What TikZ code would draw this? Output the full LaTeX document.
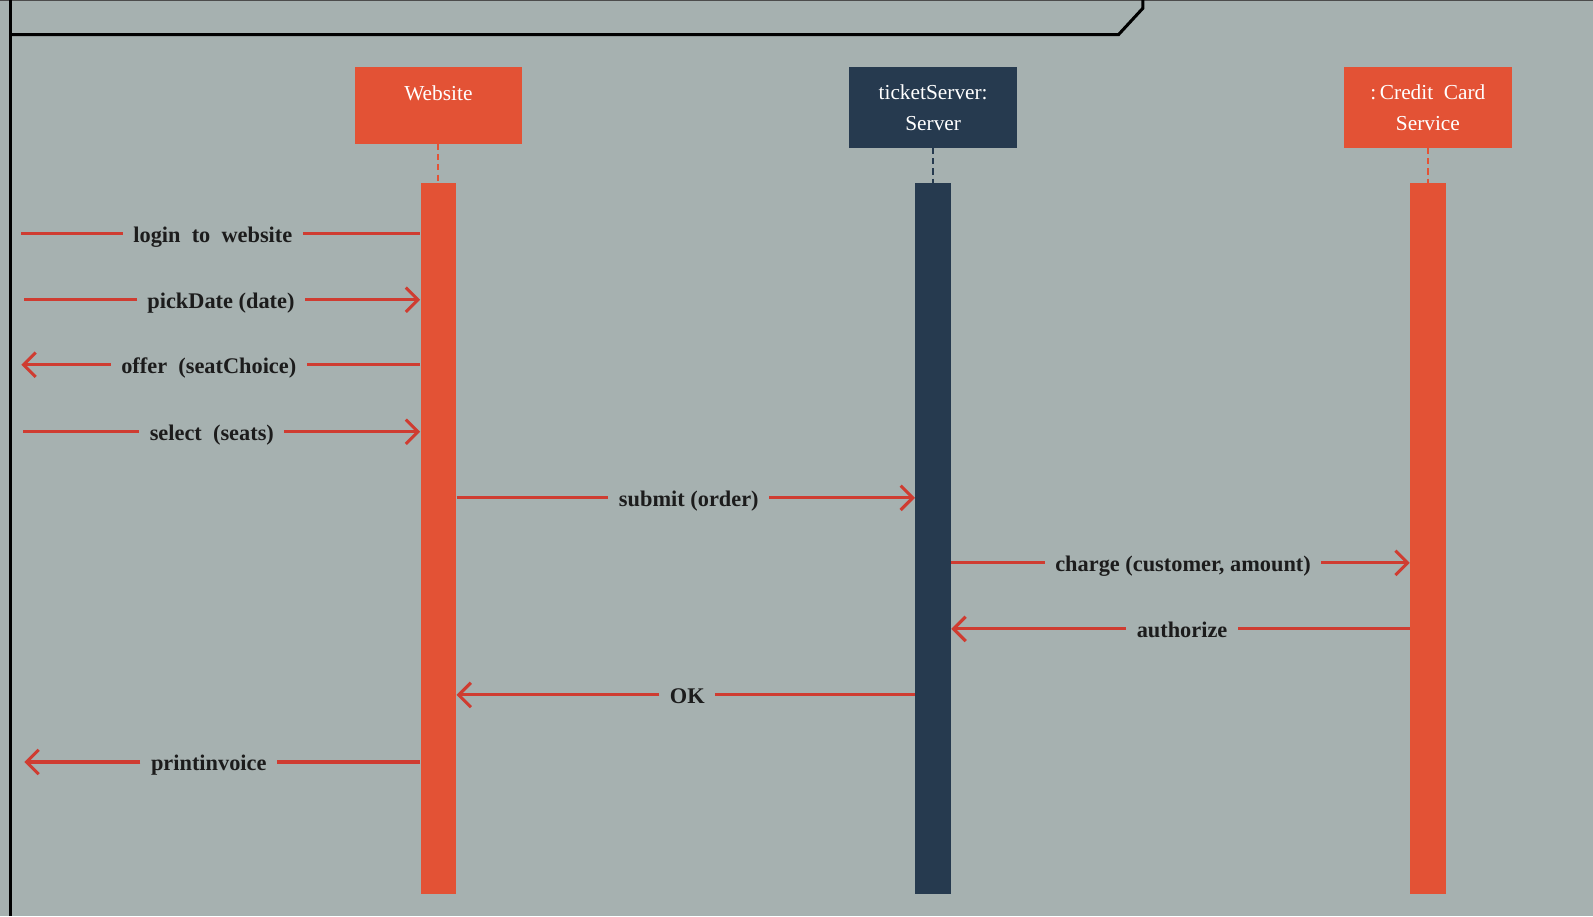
\documentclass[tikz,border=0pt]{standalone}
\usepackage{fontspec}
\setmainfont{Liberation Serif}
\usetikzlibrary{arrows.meta}
\definecolor{bgcol}{RGB}{166,177,176}
\definecolor{webcol}{RGB}{227,82,53}
\definecolor{srvcol}{RGB}{38,58,79}
\definecolor{msgcol}{RGB}{207,60,49}
\definecolor{txtcol}{RGB}{28,28,28}
\tikzset{
  head/.style={anchor=north,minimum width=82.5pt,minimum height=#1,inner sep=0pt,
    align=center,text=white,font=\fontsize{10.5}{15}\selectfont},
  bar/.style={anchor=north,minimum width=17.5pt,minimum height=350pt,inner sep=0pt,fill=#1},
  life/.style={line width=1pt,dash pattern=on 3pt off 2pt},
  msg/.style={draw=msgcol,line width=1.5pt},
  lbl/.style={text=txtcol,inner xsep=5pt,inner ysep=2pt,text height=11pt,text depth=2.5pt,
    font=\fontsize{11}{13}\bfseries\selectfont},
  tip/.style={arrows={-Straight Barb[length=6pt,width=12pt,line width=1.5pt]}}
}
\begin{document}
\begin{tikzpicture}[x=0.5pt,y=-0.5pt]
  \useasboundingbox (0,0) rectangle (1568,902);
  \fill[bgcol] (0,0) rectangle (1568,902);
  \draw[line width=1pt,gray!60!black] (0,0) -- (1568,0);
  \draw[line width=1.5pt,black] (10,0) -- (10,902);
  \draw[line width=1.5pt,black] (10,34) -- (1101,34) -- (1125,8) -- (1125,0);

  % lifeline heads
  \node[head=37.5pt,fill=webcol] (web) at (431.5,66) {\rule{0pt}{10pt}Website\\\phantom{X}};
  \node[head=39.5pt,fill=srvcol] (srv) at (918.5,66) {ticketServer:\\Server};
  \node[head=39.5pt,fill=webcol] (card) at (1405.5,66) {:\,Credit~~Card\\Service};

  % activation bars
  \node[bar=webcol] (webbar) at (431.5,180) {};
  \node[bar=srvcol] (srvbar) at (918.5,180) {};
  \node[bar=webcol] (cardbar) at (1405.5,180) {};

  \draw[life,webcol] (web) -- (webbar);
  \draw[life,srvcol] (srv) -- (srvbar);
  \draw[life,webcol] (card) -- (cardbar);

  % message labels
  \node[lbl] (m1) at (209.5,230) {login~~to~~website};
  \node[lbl] (m2) at (217.5,295) {pickDate (date)};
  \node[lbl] (m3) at (205.5,359) {offer~~(seatChoice)};
  \node[lbl] (m4) at (208.5,425) {select~~(seats)};
  \node[lbl] (m5) at (678,490) {submit (order)};
  \node[lbl] (m6) at (1164.5,554) {charge (customer, amount)};
  \node[lbl] (m7) at (1163.5,619) {authorize};
  \node[lbl] (m8) at (676.5,684) {OK};
  \node[lbl] (m9) at (205.5,750) {printinvoice};

  % free ends on the left
  \coordinate (e1) at (21,230);
  \coordinate (e2) at (24,295);
  \coordinate (e3) at (21,359);
  \coordinate (e4) at (23,425);
  \coordinate (e9) at (24,750);

  \begin{scope}[msg]
    \draw (e1) -- (m1) -- (webbar.west |- e1);
    \draw[tip] (e2) -- (m2) -- (webbar.west |- e2);
    \draw[tip] (webbar.west |- e3) -- (m3) -- (e3);
    \draw[tip] (e4) -- (m4) -- (webbar.west |- e4);
    \draw[tip] (webbar.east |- m5) -- (m5) -- (srvbar.west |- m5);
    \draw[tip] (srvbar.east |- m6) -- (m6) -- (cardbar.west |- m6);
    \draw[tip] (cardbar.west |- m7) -- (m7) -- (srvbar.east |- m7);
    \draw[tip] (srvbar.west |- m8) -- (m8) -- (webbar.east |- m8);
    \draw[tip] (webbar.west |- e9) -- (m9) -- (e9);
  \end{scope}
\end{tikzpicture}
\end{document}
